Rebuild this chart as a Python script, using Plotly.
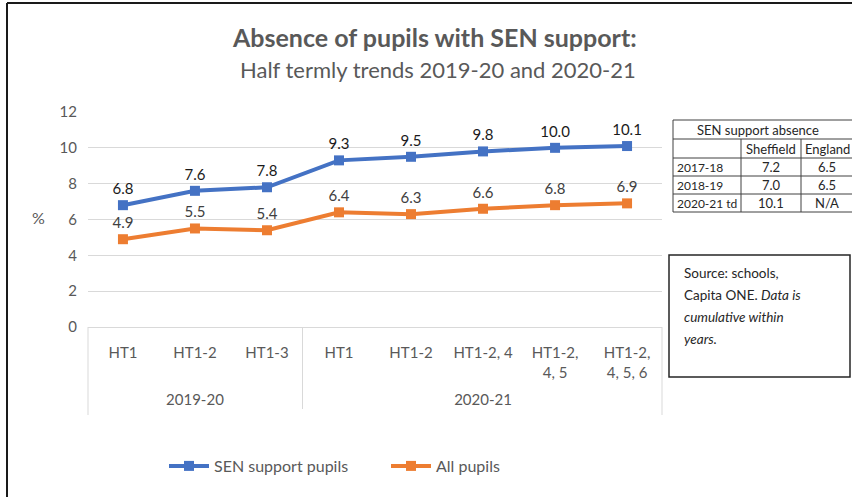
import plotly.graph_objects as go

years = ["2019-20"] * 3 + ["2020-21"] * 5
terms = ["HT1", "HT1-2", "HT1-3", "HT1", "HT1-2", "HT1-2, 4", "HT1-2,<br>4, 5", "HT1-2,<br>4, 5, 6"]
sen_support = [6.8, 7.6, 7.8, 9.3, 9.5, 9.8, 10.0, 10.1]
all_pupils = [4.9, 5.5, 5.4, 6.4, 6.3, 6.6, 6.8, 6.9]

table_header = "SEN support absence"
table_cols = ["", "Sheffield", "England"]
table_rows = [["2017-18", "7.2", "6.5"], ["2018-19", "7.0", "6.5"], ["2020-21 td", "10.1", "N/A"]]

source_lines = ["Source: schools,", "Capita ONE. <i>Data is</i>", "<i>cumulative within</i>", "<i>years.</i>"]

FONT = "Lato"
W, H = 852, 497
L, R, T, B = 88, 662, 112, 327

def px(x):
    return (x - L) / (R - L)

def py(y):
    return (B - y) / (B - T)

def note(x, y, text, font, xanchor="center", yanchor="middle", **kw):
    return dict(x=px(x), y=py(y), xref="paper", yref="paper", text=text, showarrow=False,
                xanchor=xanchor, yanchor=yanchor, font=font, **kw)

# pad year (group) labels down by one blank line, as in the reference layout
x_groups = ["<br>" + y for y in years]

fig = go.Figure()
fig.add_trace(go.Scatter(
    x=[x_groups, terms], y=sen_support, name="SEN support pupils",
    mode="lines+markers+text", text=[f"{v:.1f}" for v in sen_support],
    textposition="top center", textfont=dict(size=15, color="#1a1a1a", family=FONT),
    line=dict(color="#4472C4", width=4), marker=dict(symbol="square", size=10, color="#4472C4"),
))
fig.add_trace(go.Scatter(
    x=[x_groups, terms], y=all_pupils, name="All pupils",
    mode="lines+markers+text", text=[f"{v:.1f}" for v in all_pupils],
    textposition="top center", textfont=dict(size=15, color="#404040", family=FONT),
    line=dict(color="#ED7D31", width=4), marker=dict(symbol="square", size=10, color="#ED7D31"),
))

shapes = []
annotations = []

# titles
annotations.append(note(434, 37, "<b>Absence of pupils with SEN support:</b>", dict(size=25, color="#595959", family=FONT)))
annotations.append(note(438, 70, "Half termly trends 2019-20 and 2020-21", dict(size=22, color="#595959", family=FONT)))
# % label
annotations.append(note(39, 217, "%", dict(size=16, color="#595959", family=FONT)))

# table
col_x = [673, 741, 801, 853]
row_y = [120, 139, 158, 176, 194, 212]
lc = "#404040"
tfont = dict(size=13, color="#262626", family=FONT)
rfont = dict(size=12, color="#262626", family=FONT)
shapes.append(dict(type="rect", xref="paper", yref="paper", x0=px(col_x[0]), x1=px(col_x[3]),
                   y0=py(row_y[0]), y1=py(row_y[-1]), line=dict(color=lc, width=1)))
for yy in row_y[1:-1]:
    shapes.append(dict(type="line", xref="paper", yref="paper", x0=px(col_x[0]), x1=px(col_x[3]),
                       y0=py(yy), y1=py(yy), line=dict(color=lc, width=1)))
for xx in col_x[1:3]:
    shapes.append(dict(type="line", xref="paper", yref="paper", x0=px(xx), x1=px(xx),
                       y0=py(row_y[1]), y1=py(row_y[-1]), line=dict(color=lc, width=1)))
annotations.append(note(758, (row_y[0] + row_y[1]) / 2, table_header, tfont))
all_rows = [table_cols] + table_rows
for ri, row in enumerate(all_rows):
    yc = (row_y[ri + 1] + row_y[ri + 2]) / 2
    for ci, cell in enumerate(row):
        if not cell:
            continue
        if ci == 0:
            annotations.append(note(col_x[0] + 2, yc, cell, rfont, xanchor="left"))
        else:
            annotations.append(note((col_x[ci] + col_x[ci + 1]) / 2, yc, cell, tfont))

# source box
shapes.append(dict(type="rect", xref="paper", yref="paper", x0=px(669), x1=px(850), y0=py(255), y1=py(377),
                   line=dict(color="#262626", width=1.5)))
sfont = dict(size=13.5, color="#262626", family=FONT)
for i, s in enumerate(source_lines):
    annotations.append(note(682, 273 + 22 * i, s, sfont, xanchor="left"))

# category box edges (left / right)
for xx in (L, R):
    shapes.append(dict(type="line", xref="paper", yref="paper", x0=px(xx), x1=px(xx), y0=py(B), y1=py(415),
                       line=dict(color="#d9d9d9", width=1)))

# outer frame (top and left edges only)
shapes.append(dict(type="line", xref="paper", yref="paper", x0=px(7), x1=px(853), y0=py(3), y1=py(3),
                   line=dict(color="#1a1a1a", width=2)))
shapes.append(dict(type="line", xref="paper", yref="paper", x0=px(7), x1=px(7), y0=py(3), y1=py(498),
                   line=dict(color="#1a1a1a", width=2)))

fig.update_layout(
    width=W, height=H,
    margin=dict(l=L, r=W - R, t=T, b=H - B, autoexpand=False),
    paper_bgcolor="white", plot_bgcolor="white",
    font=dict(family=FONT, color="#595959", size=15),
    showlegend=True,
    legend=dict(orientation="h", x=px(164), y=py(466), xanchor="left", yanchor="middle",
                font=dict(size=16, color="#595959", family=FONT), itemwidth=40, entrywidth=167),
    shapes=shapes, annotations=annotations,
)
fig.update_yaxes(range=[0, 12], dtick=2, showgrid=True, gridcolor="#d9d9d9", gridwidth=1,
                 zeroline=False, tickfont=dict(size=15, color="#595959"), ticks="",
                 ticklabelstandoff=10, showline=False, automargin=False)
fig.update_xaxes(type="multicategory", showgrid=False, showline=True, linecolor="#d9d9d9", linewidth=1,
                 showdividers=True, dividercolor="#d9d9d9", dividerwidth=1, automargin=False,
                 tickfont=dict(size=15, color="#595959"), ticks="outside", ticklen=12,
                 tickcolor="rgba(0,0,0,0)", ticklabelstandoff=12)

fig.write_html("out.html", post_script="document.body.style.margin='0';",
               config={"displayModeBar": False})
